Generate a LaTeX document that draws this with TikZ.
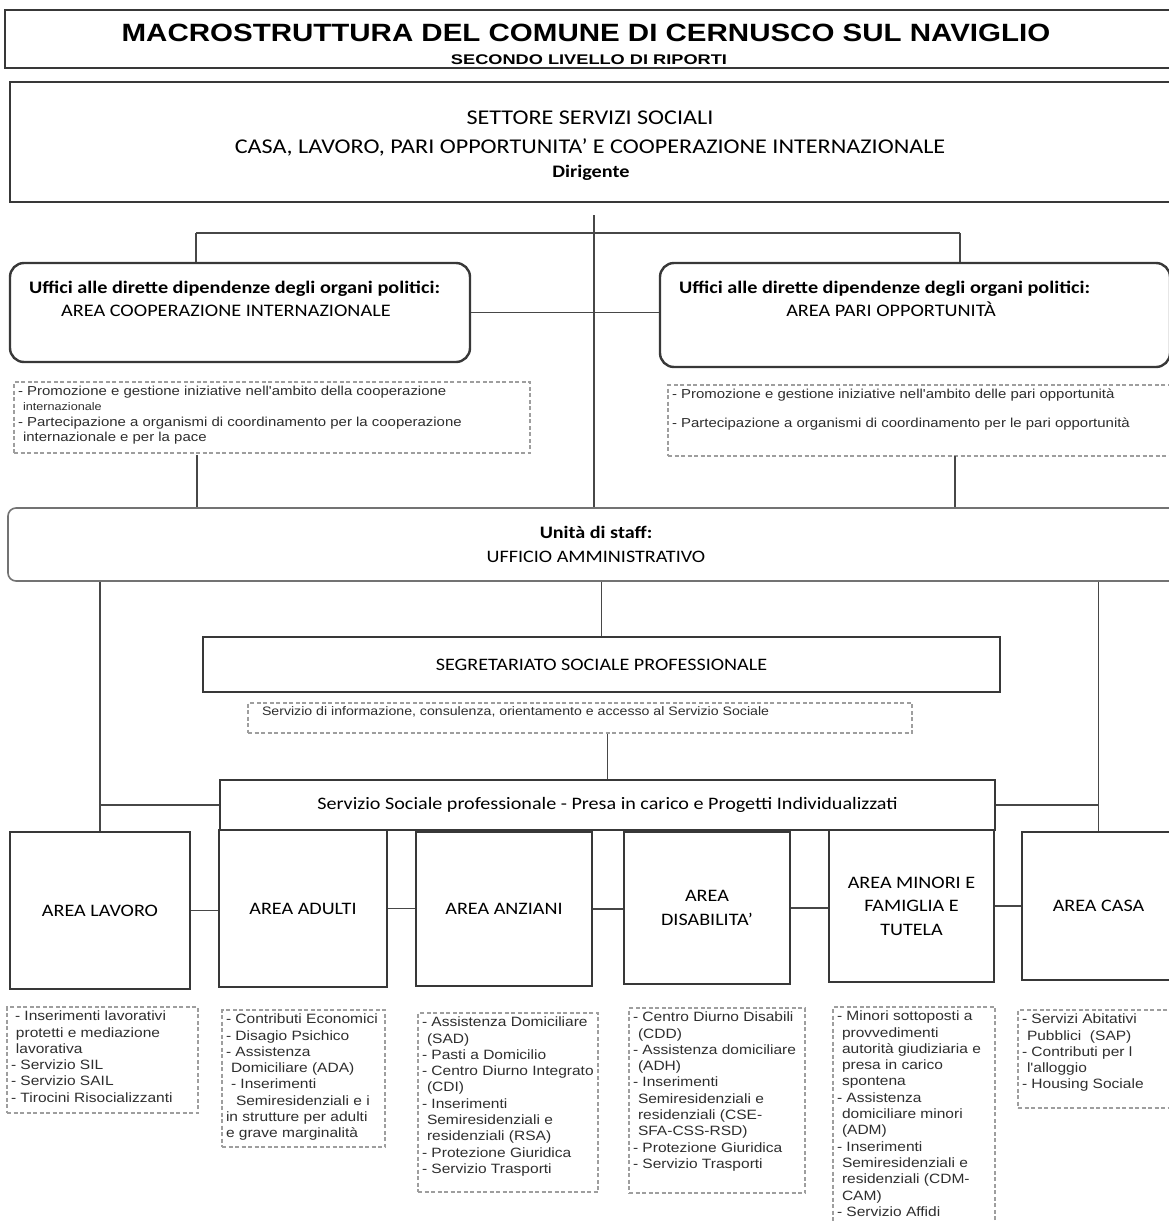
\documentclass[tikz,border=0pt]{standalone}
\usepackage{fontspec}
\setmainfont{Carlito}[FakeStretch=1.15]
\newfontfamily\arialfont{Liberation Sans}[FakeStretch=1.15]
\newfontfamily\titlefont{Liberation Sans}[FakeStretch=1.18]
\newfontfamily\subtitlefont{Liberation Sans}[FakeStretch=1.3]
\colorlet{boxcol}{black!78}
\colorlet{linecol}{black!72}
\colorlet{notecol}{black!38}
\colorlet{notetxt}{black!82}
\newcommand\noteind{\hspace*{5pt}}
\tikzset{
  box/.style={draw=boxcol,line width=2pt,fill=white,inner sep=0pt,
              align=center,font=\fontsize{17.5}{23.5}\selectfont},
  rbox/.style={box,rounded corners=14pt,line width=2.4pt},
  lbl/.style={inner sep=0pt,font=\fontsize{17.6}{21}\selectfont},
  note/.style={draw=notecol,line width=1.6pt,dash pattern=on 4pt off 2.5pt,
               inner sep=4pt,text=notetxt,
               font=\arialfont\fontsize{13.5}{16.3}\selectfont},
  link/.style={draw=linecol,line width=1.1pt}
}

\begin{document}
\begin{tikzpicture}[x=1pt,y=-1pt]
  \useasboundingbox[fill=white] (0,0) rectangle (1168,1221);

  % HEADER
  \node[box,line width=1.5pt,minimum width=1170pt,minimum height=58pt] (title) at (590,39) {};
  \node[anchor=base,inner sep=0pt,font=\titlefont\bfseries\fontsize{25}{28}\selectfont] (titletxt) at (586,41)
    {MACROSTRUTTURA DEL COMUNE DI CERNUSCO SUL NAVIGLIO};
  \node[anchor=base,inner sep=0pt,font=\subtitlefont\bfseries\fontsize{14}{16}\selectfont] (subtitle) at (589,64)
    {SECONDO LIVELLO DI RIPORTI};

  \node[box,line width=2.5pt,minimum width=1160pt,minimum height=120pt] (settore) at (590,142) {};
  \node[lbl,anchor=base,font=\fontsize{21}{25}\selectfont] (settore1) at (590,124) {SETTORE SERVIZI SOCIALI};
  \node[lbl,anchor=base,font=\fontsize{21}{25}\selectfont] (settore2) at (590,153)
    {CASA, LAVORO, PARI OPPORTUNITA' E COOPERAZIONE INTERNAZIONALE};
  \node[lbl,anchor=base,font=\bfseries\fontsize{17.6}{21}\selectfont] (dirigente) at (591,177) {Dirigente};

  % UFFICI
  \node[rbox,minimum width=460pt,minimum height=99pt] (coop) at (240,312.5) {};
  \node[lbl,anchor=base west,font=\bfseries\fontsize{17.6}{21}\selectfont] (cooptitle) at (29,293)
    {Uffici alle dirette dipendenze degli organi politici:};
  \node[lbl,anchor=base west] (coopname) at (61,316) {AREA COOPERAZIONE INTERNAZIONALE};

  \node[rbox,minimum width=510pt,minimum height=104pt] (pari) at (915,315) {};
  \node[lbl,anchor=base west,font=\bfseries\fontsize{17.6}{21}\selectfont] (parititle) at (679,293)
    {Uffici alle dirette dipendenze degli organi politici:};
  \node[lbl,anchor=base] (pariname) at (891,316) {AREA PARI OPPORTUNITÀ};

  \node[note,font=\arialfont\fontsize{13}{15.5}\selectfont] (coopnote) at (272,417.5) {\parbox[c][63pt][t]{508pt}{\raggedright
    - Promozione e gestione iniziative nell'ambito della cooperazione\\
    {\fontsize{11}{11}\selectfont\noteind internazionale}\\
    - Partecipazione a organismi di coordinamento per la cooperazione\\
    \noteind internazionale e per la pace}};
  \node[note,font=\arialfont\fontsize{13}{15.5}\selectfont] (parinote) at (924,420.5) {\parbox[c][63pt][t]{504pt}{\raggedright
    - Promozione e gestione iniziative nell'ambito delle pari opportunità\\[13pt]
    - Partecipazione a organismi di coordinamento per le pari opportunità}};

  % STAFF
  \node[rbox,rounded corners=8pt,line width=1.6pt,draw=black!55,minimum width=1176pt,minimum height=73pt] (unita) at (596,544.5)
    {\textbf{Unità di staff:}\\UFFICIO AMMINISTRATIVO};

  \node[box,minimum width=797pt,minimum height=55pt] (segr) at (601.5,664.5) {SEGRETARIATO SOCIALE PROFESSIONALE};
  \node[note,font=\arialfont\fontsize{12.3}{15}\selectfont] (segrnote) at (580,718) {\parbox[c][22pt][t]{656pt}{\raggedright
    \hspace*{10pt}Servizio di informazione, consulenza, orientamento e accesso al Servizio Sociale}};

  \node[box,minimum width=775pt,minimum height=50pt] (servizio) at (607.5,805)
    {Servizio Sociale professionale - Presa in carico e Progetti Individualizzati};

  % AREE
  \node[box,minimum width=180pt,minimum height=157pt] (lavoro) at (100,910.5) {AREA LAVORO};
  \node[box,minimum width=168pt,minimum height=157pt] (adulti) at (303,908.5) {AREA ADULTI};
  \node[box,minimum width=176pt,minimum height=154pt] (anziani) at (504,909) {AREA ANZIANI};
  \node[box,minimum width=166pt,minimum height=152pt] (disab) at (707,908) {AREA\\DISABILITA'};
  \node[box,minimum width=165pt,minimum height=152pt] (minori) at (911.5,906) {AREA MINORI E\\FAMIGLIA E\\TUTELA};
  \node[box,minimum width=153pt,minimum height=148pt] (casa) at (1098.5,906) {AREA CASA};

  % NOTES
  \node[note] (lavnote) at (102.5,1060) {\parbox[c][98pt][t]{183pt}{\raggedright
    \hspace*{4pt}- Inserimenti lavorativi\\
    \noteind protetti e mediazione\\
    \noteind lavorativa\\
    - Servizio SIL\\
    - Servizio SAIL\\
    - Tirocini Risocializzanti}};
  \node[note] (adunote) at (303.5,1078.5) {\parbox[c][129pt][t]{155pt}{\raggedright
    - Contributi Economici\\
    - Disagio Psichico\\
    - Assistenza\\
    \noteind Domiciliare (ADA)\\
    \noteind - Inserimenti\\
    \noteind\noteind Semiresidenziali e i\\
    in strutture per adulti\\
    e grave marginalità}};
  \node[note] (anznote) at (508,1102.5) {\parbox[c][171pt][t]{172pt}{\raggedright
    - Assistenza Domiciliare\\
    \noteind (SAD)\\
    - Pasti a Domicilio\\
    - Centro Diurno Integrato\\
    \noteind (CDI)\\
    - Inserimenti\\
    \noteind Semiresidenziali e\\
    \noteind residenziali (RSA)\\
    - Protezione Giuridica\\
    - Servizio Trasporti}};
  \node[note] (disnote) at (717,1100.5) {\parbox[c][177pt][t]{168pt}{\raggedright
    - Centro Diurno Disabili\\
    \noteind (CDD)\\
    - Assistenza domiciliare\\
    \noteind (ADH)\\
    - Inserimenti\\
    \noteind Semiresidenziali e\\
    \noteind residenziali (CSE-\\
    \noteind SFA-CSS-RSD)\\
    - Protezione Giuridica\\
    - Servizio Trasporti}};
  \node[note] (minnote) at (914,1123.5) {\parbox[c][225pt][t]{154pt}{\raggedright
    - Minori sottoposti a\\
    \noteind provvedimenti\\
    \noteind autorità giudiziaria e\\
    \noteind presa in carico\\
    \noteind spontena\\
    - Assistenza\\
    \noteind domiciliare minori\\
    \noteind (ADM)\\
    - Inserimenti\\
    \noteind Semiresidenziali e\\
    \noteind residenziali (CDM-\\
    \noteind CAM)\\
    - Servizio Affidi}};
  \node[note] (casnote) at (1099,1059) {\parbox[c][90pt][t]{154pt}{\raggedright
    - Servizi Abitativi\\
    \noteind Pubblici\ \ (SAP)\\
    - Contributi per l\\
    \noteind l'alloggio\\
    - Housing Sociale}};

  % LINES
  \coordinate (spine) at (594,215);
  \coordinate (hubL) at (196,233);
  \coordinate (hubR) at (960,233);
  \coordinate (ldrop) at (197,455);
  \coordinate (rdrop) at (955,456);
  \draw[link] (spine) -- (spine |- unita.north);
  \draw[link] (hubL) -- (hubR);
  \draw[link] (hubL) -- (hubL |- coop.north);
  \draw[link] (hubR) -- (hubR |- pari.north);
  \draw[link] (coop.east) -- (coop.east -| pari.west);
  \draw[link] (ldrop) -- (ldrop |- unita.north);
  \draw[link] (rdrop) -- (rdrop |- unita.north);
  \draw[link] (segr.north |- unita.south) -- (segr.north);
  \draw[link] (servizio.north |- segrnote.south) -- (servizio.north);
  \draw[link] (lavoro.north |- unita.south) -- (lavoro.north);
  \draw[link] (casa.north |- unita.south) -- (casa.north);
  \draw[link] (servizio.west) -- (servizio.west -| lavoro.north);
  \draw[link] (servizio.east) -- (servizio.east -| casa.north);
  \foreach \a/\b in {lavoro/adulti,adulti/anziani,anziani/disab,disab/minori,minori/casa}
    \draw[link] (\a.east) -- (\a.east -| \b.west);

\end{tikzpicture}
\end{document}
